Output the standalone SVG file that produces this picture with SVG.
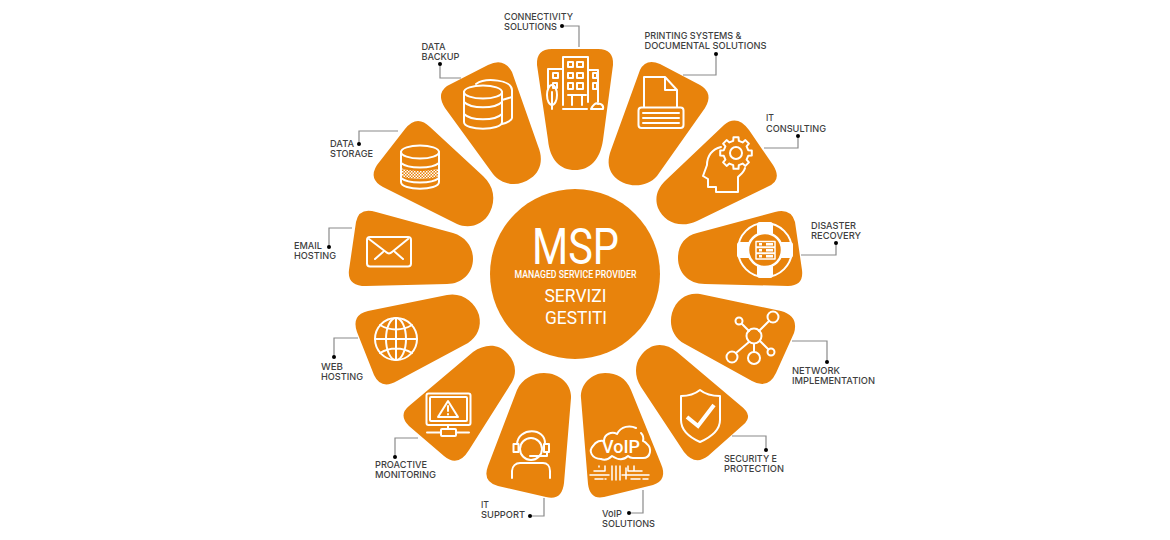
<svg xmlns="http://www.w3.org/2000/svg" width="1170" height="540" viewBox="0 0 1170 540">
<style>
.p{fill:#e8830c}
.i{fill:none;stroke:#fff;stroke-width:2;stroke-linecap:round;stroke-linejoin:round}
.n{stroke-width:1.500}
.k{stroke-width:4;stroke-linecap:butt;stroke-linejoin:miter}
.w{fill:#fff}
.t{font-family:"Inter","Liberation Sans",sans-serif;font-size:9.5px;font-weight:500;fill:#3f3f3f}
.c{font-family:"Roboto","Liberation Sans",sans-serif;fill:#fff}
.l{fill:none;stroke:#8a8a8a;stroke-width:1.2}
.d{fill:#000}
</style>
<defs>
<pattern id="chk" width="3" height="3" patternUnits="userSpaceOnUse"><rect width="3" height="3" fill="#e8830c"/><rect width="1.5" height="1.5" fill="#fff"/><rect x="1.5" y="1.5" width="1.5" height="1.5" fill="#fff"/></pattern>
</defs>
<rect width="1170" height="540" fill="#fff"/>
<g id="connectors">
<path class="l" d="M562 26H579V47"/><circle class="d" cx="562" cy="26" r="2"/>
<path class="l" d="M440 64V78H461"/><circle class="d" cx="440" cy="64" r="2"/>
<path class="l" d="M359 144V131H398"/><circle class="d" cx="359" cy="144" r="2"/>
<path class="l" d="M716 54V75H683"/><circle class="d" cx="716" cy="54" r="2"/>
<path class="l" d="M798 136V148H764"/><circle class="d" cx="798" cy="136" r="2"/>
<path class="l" d="M836 243V255H801"/><circle class="d" cx="836" cy="243" r="2"/>
<path class="l" d="M827 362V341H792"/><circle class="d" cx="827" cy="362" r="2"/>
<path class="l" d="M766 450V436H732"/><circle class="d" cx="766" cy="450" r="2"/>
<path class="l" d="M629 513H643V490"/><circle class="d" cx="629" cy="513" r="2"/>
<path class="l" d="M530 516H544V498"/><circle class="d" cx="530" cy="516" r="2"/>
<path class="l" d="M395 457V438H418"/><circle class="d" cx="395" cy="457" r="2"/>
<path class="l" d="M334 357V338H358"/><circle class="d" cx="334" cy="357" r="2"/>
<path class="l" d="M329 247V228H352"/><circle class="d" cx="329" cy="247" r="2"/>
</g>
<g id="center">
<circle class="p" cx="575" cy="274" r="85"/>
<text class="c" x="532" y="264" font-size="50" textLength="87" lengthAdjust="spacingAndGlyphs">MSP</text>
<text class="c" x="514.500" y="278" font-size="11" font-weight="500" textLength="122" lengthAdjust="spacingAndGlyphs">MANAGED SERVICE PROVIDER</text>
<text class="c" x="544.500" y="302" font-size="18.500" textLength="62" lengthAdjust="spacingAndGlyphs">SERVIZI</text>
<text class="c" x="545" y="323.500" font-size="18.500" textLength="62" lengthAdjust="spacingAndGlyphs">GESTITI</text>
</g>
<g id="connectivity">
<path class="p" d="M552 49H598Q614 49 613 65L603 140C600 160 590 170 575 170C560 170 550 160 548 140L537 65Q536 49 552 49Z"/>
<path class="i" d="M563 105V57H588V102M588 70H598V102M563 69H548V88M568 95H586M572 95V105M582 95V105M563 109H587"/>
<path class="i" d="M568 62h5v5h-5zM577 62h6v5h-6zM568 73h5v5h-5zM577 73h6v5h-6zM568 83h5v6h-5zM577 83h6v6h-6zM593 73h4v5h-4zM593 83h4v6h-4zM553 73h5v5h-5zM553 83h4v5h-4z"/>
<ellipse class="i" cx="552" cy="95" rx="5" ry="10"/><path class="i" d="M552 92V109M591 109H603C604 105 600 103 598 104C596 102 593 105 591 109Z"/>
<text class="t" x="504" y="20" textLength="69" lengthAdjust="spacingAndGlyphs">CONNECTIVITY</text><text class="t" x="504" y="30" textLength="53" lengthAdjust="spacingAndGlyphs">SOLUTIONS</text>
</g>
<g id="printing">
<path class="p" d="M640 70Q646 58 660 64L700 85Q714 93 705 108L657 176C645 190 622 187 613 175C607 167 608 158 611 150Z"/>
<path class="i" d="M644 107V77H665L677 90V107M665 77V90H677"/>
<rect class="i" x="638.500" y="107.500" width="45" height="20.500" rx="3"/>
<path class="i" d="M643 113H679M643 118H679M643 123H679"/>
<text class="t" x="644.500" y="39" textLength="97" lengthAdjust="spacingAndGlyphs">PRINTING SYSTEMS &amp;</text><text class="t" x="644.500" y="49" textLength="122" lengthAdjust="spacingAndGlyphs">DOCUMENTAL SOLUTIONS</text>
</g>
<g id="consulting">
<path class="p" d="M724 125Q737 114 749 130L773 165Q783 181 767 187L697 221C680 229 664 222 658 208C654 197 658 188 665 181Z"/>
<polygon class="i" transform="translate(736 153)" points="12.200,-2.800 15.800,-2.500 15.800,2.500 12.200,2.800 10.600,6.600 12.900,9.400 9.400,12.900 6.600,10.600 2.800,12.200 2.500,15.800 -2.500,15.800 -2.800,12.200 -6.600,10.600 -9.400,12.900 -12.900,9.400 -10.600,6.600 -12.200,2.800 -15.800,2.500 -15.800,-2.500 -12.200,-2.800 -10.600,-6.600 -12.900,-9.400 -9.400,-12.900 -6.600,-10.600 -2.800,-12.200 -2.500,-15.800 2.500,-15.800 2.800,-12.200 6.600,-10.600 9.400,-12.900 12.900,-9.400 10.600,-6.600"/>
<circle class="i" cx="736" cy="153" r="6"/>
<path class="i" d="M721 147C712 149 707 156 707 165L703 176L708 179V187H716V192H738V177C741 174 744 172 745 168"/>
<text class="t" x="766" y="121" textLength="8" lengthAdjust="spacingAndGlyphs">IT</text><text class="t" x="766" y="131.500" textLength="60" lengthAdjust="spacingAndGlyphs">CONSULTING</text>
</g>
<g id="disaster">
<path class="p" d="M697 233L775 212Q791 208 795 222L802 270Q804 286 788 286L705 284C688 284 678 272 678 258C678 245 685 236 697 233Z"/>
<circle class="i" cx="765" cy="250" r="27"/>
<rect class="w" x="757" y="222" width="16" height="14" rx="3"/><rect class="w" x="757" y="264" width="16" height="14" rx="3"/><rect class="w" x="737" y="242" width="16" height="16" rx="3"/><rect class="w" x="777" y="242" width="16" height="16" rx="3"/>
<circle cx="765" cy="250" r="17" fill="#e8830c" stroke="#fff" stroke-width="2.500"/>
<path class="i n" d="M756 241.500h19v5.500h-19zM756 247.500h19v5.500h-19zM756 253.500h19v5.500h-19z"/>
<path class="w" d="M759 243h3v2.500h-3zM759 249h3v2.500h-3zM759 255h3v2.500h-3zM766 243h7v2.500h-7zM766 249h7v2.500h-7zM766 255h7v2.500h-7z"/>
<text class="t" x="811" y="229" textLength="45" lengthAdjust="spacingAndGlyphs">DISASTER</text><text class="t" x="811" y="239" textLength="50" lengthAdjust="spacingAndGlyphs">RECOVERY</text>
</g>
<g id="network">
<path class="p" d="M700 294L781 311Q799 316 794 333L776 373Q768 390 752 381L685 344C672 337 669 324 672 313C676 299 688 292 700 294Z"/>
<circle class="i" cx="754" cy="336" r="7.500"/><circle class="i" cx="739" cy="321" r="3.500"/><circle class="i" cx="773" cy="317" r="5.500"/><circle class="i" cx="732" cy="357" r="5.500"/><circle class="i" cx="754" cy="358" r="6"/><circle class="i" cx="771" cy="352" r="3.500"/>
<path class="i" d="M742 324L749 331M759 331L769 321M749 342L736 353M754 344V352M760 341L768 349"/>
<text class="t" x="792" y="374" textLength="48" lengthAdjust="spacingAndGlyphs">NETWORK</text><text class="t" x="792" y="384" textLength="83" lengthAdjust="spacingAndGlyphs">IMPLEMENTATION</text>
</g>
<g id="security">
<path class="p" d="M677 352L741 406Q754 416 743 425L708 456Q695 466 684 452L641 387C634 376 635 364 640 357C650 342 665 342 677 352Z"/>
<path class="i" d="M700 390C695 394 688 396 681 396V420C681 431 691 438 700 442C709 438 720 431 720 420V396C712 396 705 394 700 390Z"/>
<path class="i k" d="M687 417L698 426L714 405"/>
<text class="t" x="724" y="462" textLength="53" lengthAdjust="spacingAndGlyphs">SECURITY E</text><text class="t" x="724" y="472" textLength="60" lengthAdjust="spacingAndGlyphs">PROTECTION</text>
</g>
<g id="voip">
<path class="p" d="M581 398C580 384 592 373 605 373C617 373 626 378 631 390L661 464Q668 480 653 485L604 497Q590 500 588 484Z"/>
<path class="i" d="M601 459C592 459 588 451 593 446C596 441 601 440 604 441C604 434 612 431 617 434C621 426 630 425 636 428M633 458H643C651 458 652 448 647 444C645 442 644 441 643 441C644 437 643 435 641 433M601 459C606 461 610 458 612 456C618 460 624 460 628 456C630 458 632 458 633 458"/>
<text x="621" y="453" text-anchor="middle" font-family="Roboto,'Liberation Sans',sans-serif" font-size="19" font-weight="500" fill="#fff" textLength="38" lengthAdjust="spacingAndGlyphs">VoIP</text>
<path class="i n" d="M590 475H609M622 475H649M595 479H603M605 479H606M612 466V480M616 466V480M620 466V480M605 466V471H594M628 466V471H642M634 466V470M626 468V479M631 479H640M643 479H648M599 466V467"/>
<text class="t" x="602" y="517" textLength="20" lengthAdjust="spacingAndGlyphs">VoIP</text><text class="t" x="602" y="527" textLength="53" lengthAdjust="spacingAndGlyphs">SOLUTIONS</text>
</g>
<g id="support">
<path class="p" d="M571 398L564 483Q562 501 546 497L498 486Q482 482 488 466L517 390C522 379 533 373 544 373C560 373 572 385 571 398Z"/>
<circle class="i" cx="531" cy="449" r="11"/>
<path class="i" d="M517 444C518 427 546 427 545 444M513.500 444h5v8h-5zM544 444h5v8h-5zM547 453V456H530M512 478V471C512 466 516 463 520 463H543C547 463 550 466 550 471V478"/>
<text class="t" x="481" y="508" textLength="8" lengthAdjust="spacingAndGlyphs">IT</text><text class="t" x="481" y="518" textLength="44" lengthAdjust="spacingAndGlyphs">SUPPORT</text>
</g>
<g id="proactive">
<path class="p" d="M473 352C484 344 498 343 507 353C516 362 517 373 512 382L469 450Q458 468 444 456L409 426Q398 415 409 406Z"/>
<rect class="i" x="426.500" y="393.500" width="44" height="31.500" rx="2"/>
<rect class="i" x="430" y="397" width="37" height="24" rx="1"/>
<path class="i" d="M448 401L438 417H458ZM448 406V411M448 414V414.500M448 425V429M427 432.500H441M456 432.500H469"/>
<rect class="i" x="441" y="429" width="15" height="7" rx="1"/>
<text class="t" x="375" y="468" textLength="52" lengthAdjust="spacingAndGlyphs">PROACTIVE</text><text class="t" x="375" y="478" textLength="61" lengthAdjust="spacingAndGlyphs">MONITORING</text>
</g>
<g id="web">
<path class="p" d="M368 311L447 295C462 292 475 302 479 315C482 327 477 337 468 343L397 381Q381 390 374 375L357 332Q351 315 368 311Z"/>
<circle class="i" cx="396" cy="339" r="21"/>
<ellipse class="i" cx="396" cy="339" rx="10" ry="21"/>
<path class="i" d="M396 318V360M375 339H417M380 325C390 331 402 331 412 325M380 353C390 347 402 347 412 353"/>
<text class="t" x="321" y="370" textLength="22" lengthAdjust="spacingAndGlyphs">WEB</text><text class="t" x="321" y="380" textLength="42" lengthAdjust="spacingAndGlyphs">HOSTING</text>
</g>
<g id="email">
<path class="p" d="M376 212L453 233C466 237 473 247 473 259C473 273 462 284 447 284L366 286Q347 286 349 270L356 222Q359 207 376 212Z"/>
<rect class="i" x="367" y="237" width="44" height="29.500" rx="3"/>
<path class="i" d="M369 239L386 252Q389 255 392 252L408 239M375 259L383 252M403 259L395 252"/>
<text class="t" x="294" y="249" textLength="28" lengthAdjust="spacingAndGlyphs">EMAIL</text><text class="t" x="294" y="259" textLength="42" lengthAdjust="spacingAndGlyphs">HOSTING</text>
</g>
<g id="storage">
<path class="p" d="M405 129Q417 114 430 127L483 176C494 186 496 200 490 212C483 226 468 229 457 224L383 187Q368 179 377 165Z"/>
<path d="M401 168C410 172 430 172 439 168V176C430 180 410 180 401 176Z" fill="url(#chk)"/>
<ellipse class="i" cx="420" cy="152" rx="19" ry="6.500"/>
<path class="i" d="M401 152V182C401 191 439 191 439 182V152M401 163C408 169 432 169 439 163M401 178C408 184 432 184 439 178"/>
<text class="t" x="330" y="147" textLength="24" lengthAdjust="spacingAndGlyphs">DATA</text><text class="t" x="330" y="157" textLength="43" lengthAdjust="spacingAndGlyphs">STORAGE</text>
</g>
<g id="backup">
<path class="p" d="M447 86L488 65Q504 57 512 72L538 146C544 160 540 172 531 178C518 188 502 185 493 174L445 108Q436 94 447 86Z"/>
<ellipse class="i" cx="483" cy="92" rx="19" ry="6.500"/>
<path class="i" d="M464 92V122C464 131 502 131 502 122V92M464 102C471 109 495 109 502 102M464 114C471 121 495 121 502 114M476 84C486 77 512 80 512 90V118C512 120 507 123 502 124M502 100L512 97"/>
<text class="t" x="421.500" y="50" textLength="24" lengthAdjust="spacingAndGlyphs">DATA</text><text class="t" x="421.500" y="60" textLength="38" lengthAdjust="spacingAndGlyphs">BACKUP</text>
</g>
</svg>
